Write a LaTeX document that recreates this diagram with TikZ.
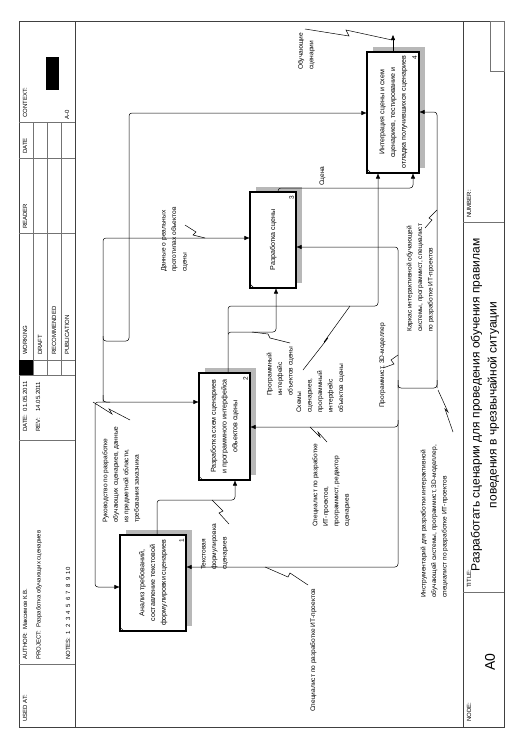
\documentclass[tikz,border=0pt]{standalone}
\usepackage{fontspec}
\setmainfont{Liberation Sans}
\usetikzlibrary{arrows.meta,calc}
\newcommand\rl[2]{\rotatebox{90}{\begin{tabular}{@{}#1@{}}#2\end{tabular}}}
\tikzset{
  frm/.style={draw=black!75, line width=0.6pt},
  cell/.style={draw=black!55, line width=0.4pt},
  blk/.style={draw, line width=1.1pt, fill=white, inner sep=0pt, font=\fontsize{7.1}{10.8}\selectfont},
  shd/.style={fill=black!28, draw=none},
  conn/.style={line width=0.5pt, rounded corners=3pt},
  arr/.style={conn, -{Triangle[length=5pt,width=4pt]}},
  zz/.style={line width=0.5pt},
  lab/.style={inner sep=0pt, anchor=south, font=\fontsize{6.6}{10.5}\selectfont},
  hd/.style={inner sep=0pt, anchor=west, rotate=90, font=\fontsize{6}{7}\selectfont},
}
\begin{document}
\begin{tikzpicture}[x=1pt,y=-1pt]
\useasboundingbox (0,0) rectangle (526,744);
% frame
\draw[frm] (19,21) rectangle (504,727);
\draw[frm] (75,21) -- (75,727);
\draw[frm] (463,21) -- (463,727);
% header cells
\draw[cell] (19,664) -- (75,664);
\draw[cell] (19,440) -- (75,440);
\draw[cell] (19,375) -- (75,375);
\draw[cell] (19,360) -- (75,360);
\draw[cell] (19,233) -- (75,233);
\draw[cell] (19,158) -- (75,158);
\draw[cell] (19,122) -- (75,122);
\foreach \xx in {33,47,61} \draw[cell] (\xx,122) -- (\xx,375);
\fill[black] (19,360) rectangle (33,375);
\node[hd] (usedat) at (25,722) {USED AT:};
\node[hd] (author) at (25,660) {AUTHOR:\ \ Максимов К.В.};
\node[hd] (project) at (39,660) {PROJECT:\ \ Разработка обучающих сценариев};
\node[hd] (notes) at (68,660) {NOTES:\ \ 1\ \ 2\ \ 3\ \ 4\ \ 5\ \ 6\ \ 7\ \ 8\ \ 9\ \ 10};
\node[hd] (date) at (25,432) {DATE:\ \ 01.05.2011};
\node[hd] (rev) at (38,432) {REV:\ \ \ \ 14.05.2011};
\node[hd] (working) at (25,355) {WORKING};
\node[hd] (draft) at (40,355) {DRAFT};
\node[hd] (recom) at (54,355) {RECOMMENDED};
\node[hd] (publ) at (67,355) {PUBLICATION};
\node[hd] (reader) at (25,229) {READER};
\node[hd] (date2) at (25,154) {DATE};
\node[hd] (context) at (25,118) {CONTEXT:};
\node[hd] (a0c) at (67,120) {A-0};
\fill[black] (46,57) rectangle (59,90);
% footer
\draw[cell] (463,592) -- (504,592);
\draw[cell] (463,222) -- (504,222);
\draw[cell] (490,21) rectangle (504,71);
\node[hd] (nodel) at (469,722) {NODE:};
\node[hd] (titlel) at (469,588) {TITLE:};
\node[hd] (numl) at (469,218) {NUMBER:};
\node[inner sep=0pt, rotate=90, font=\fontsize{14}{16}\selectfont] (a0) at (490,662) {A0};
\node[inner sep=0pt, rotate=90, align=center, font=\fontsize{12}{17}\selectfont] (title) at (485,405) {Разработать сценарии для проведения обучения правилам\\поведения в чрезвычайной ситуации};
% shadows
\fill[shd] (126,530) rectangle (192,626);
\fill[shd] (205,368) rectangle (256,475);
\fill[shd] (256,187) rectangle (302,283);
\fill[shd] (373,47) rectangle (425,168);
% boxes
\node[blk, minimum width=66pt, minimum height=96pt] (b1) at (153,583) {\rl{c}{Анализ требований,\\составление текстовой\\формулировки сценариев}};
\node[blk, minimum width=51pt, minimum height=107pt] (b2) at (224.5,426.5) {\rl{c}{Разработка схем сценариев\\и программного интерфейса\\объектов сцены}};
\node[blk, minimum width=46pt, minimum height=96pt] (b3) at (273,240) {\rl{c}{Разработка сцены}};
\node[blk, minimum width=52pt, minimum height=121pt] (b4) at (393,112.5) {\rl{c}{Интеграция сцены и схем\\сценариев, тестирование и\\отладка получившихся сценариев}};
\foreach \b/\n in {b1/1,b2/2,b3/3,b4/4}{
  \node[inner sep=0pt, font=\fontsize{6.5}{7}\selectfont, rotate=90, anchor=center] at ($(\b.north east)+(-5,6)$) {\n};
  \draw[line width=0.5pt] ($(\b.south west)+(0,-5)$) -- ($(\b.south west)+(5,0)$);
}
% outputs
\draw[arr] (b1.north -| 157,0) |- (235,500) -- (b2.south -| 235,0);
\draw[arr] (b2.north -| 228,0) |- (276,332) -- (b3.south -| 276,0);
\draw[arr] (228,334) |- (378,306) -- (b4.south -| 378,0);
\draw[arr] (b3.north -| 278,0) |- (413,188) -- (b4.south -| 413,0);
\draw[arr] (b4.north -| 393,0) -- (393,35);
% controls
\coordinate (cj) at (103,402);
\draw[arr] (cj) -- (103,238) -- (b3.west |- 0,238);
\draw[arr] (103,395) |- (b2.west |- 0,402);
\draw[arr] (110,402) -- (95,402) -- (95,587) -- (b1.west |- 0,587);
\draw[arr] (103,336) |- (116,341) -| (129,113) -- (b4.west |- 0,113);
% mechanisms
\coordinate (mj) at (437,388);
\draw[arr] (mj) -- (437,112) -- (b4.east |- 0,112);
\draw[arr] (398,388) -- (398,247) -- (b3.east |- 0,247);
\draw[conn] (398,380) -- (398,388) -- (mj) -- (437,380);
\draw[arr] (398,385) |- (b2.east |- 0,427);
\draw[arr] (398,420) |- (b1.east |- 0,567);
% labels
\node[lab] (lobs) at (306,70) {\rl{l}{Обучающие\\сценарии}};
\node[lab] (ltxt) at (214,570) {\rl{l}{Текстовая\\формулировка\\сценариев}};
\node[lab] (lspec) at (313,712) {\rl{l}{Специалист по разработке ИТ-проектов}};
\node[lab] (lruk) at (121,523) {\rl{l}{Руководство по разработке\\обучающих сценариев, данные\\из предметной области,\\требования заказчика}};
\node[lab] (lpi) at (280,396) {\rl{l}{Программный\\интерфейс\\объектов сцены}};
\node[lab] (lsch) at (320,413) {\rl{l}{Схемы\\сценариев,\\программный\\интерфейс\\объектов сцены}};
\node[lab] (lspec2) at (331,527) {\rl{l}{Специалист по разработке\\ИТ-проектов,\\программист, редактор\\сценариев}};
\node[lab] (lprog) at (382,408) {\rl{l}{Программист, 3D-моделлер}};
\node[lab] (lkar) at (420,332) {\rl{l}{Каркас интерактивной обучающей\\системы, программист, специалист\\по разработке ИТ-проектов}};
\node[lab] (linst) at (434,598) {\rl{l}{Инструментарий для разработки интерактивной\\обучающей системы, программист, 3D-моделлер,\\специалист по разработке ИТ-проектов}};
\node[lab] (ldan) at (174,272) {\rl{l}{Данные о реальных\\прототипах объектов\\сцены}};
\node[lab] (lsc) at (322,186) {\rl{l}{Сцена}};
% squiggles
\draw[zz] (305,29) -- (349,36) -- (346,30) -- (392,40);
\draw[zz] (229,524) -- (219,513) -- (223,511) -- (212,500);
\draw[zz] (308,585) -- (290,573) -- (288,577) -- (265,567);
\draw[zz] (290,343) -- (270,338) -- (268,334) -- (252,332);
\draw[zz] (303,370) -- (328,338) -- (324,342) -- (350,306);
\draw[zz] (310,427) -- (320,437) -- (318,432) -- (327,442);
\draw[zz] (383,368) -- (394,364) -- (391,360) -- (398,355);
\draw[zz] (93,402) -- (112,414) -- (109,409) -- (130,420);
\draw[zz] (438,390) -- (448,412) -- (445,409) -- (453,432);
\draw[zz] (425,228) -- (432,220) -- (429,218) -- (437,210);
\draw[zz] (185,225) -- (196,232) -- (193,235) -- (205,238);
\end{tikzpicture}
\end{document}
